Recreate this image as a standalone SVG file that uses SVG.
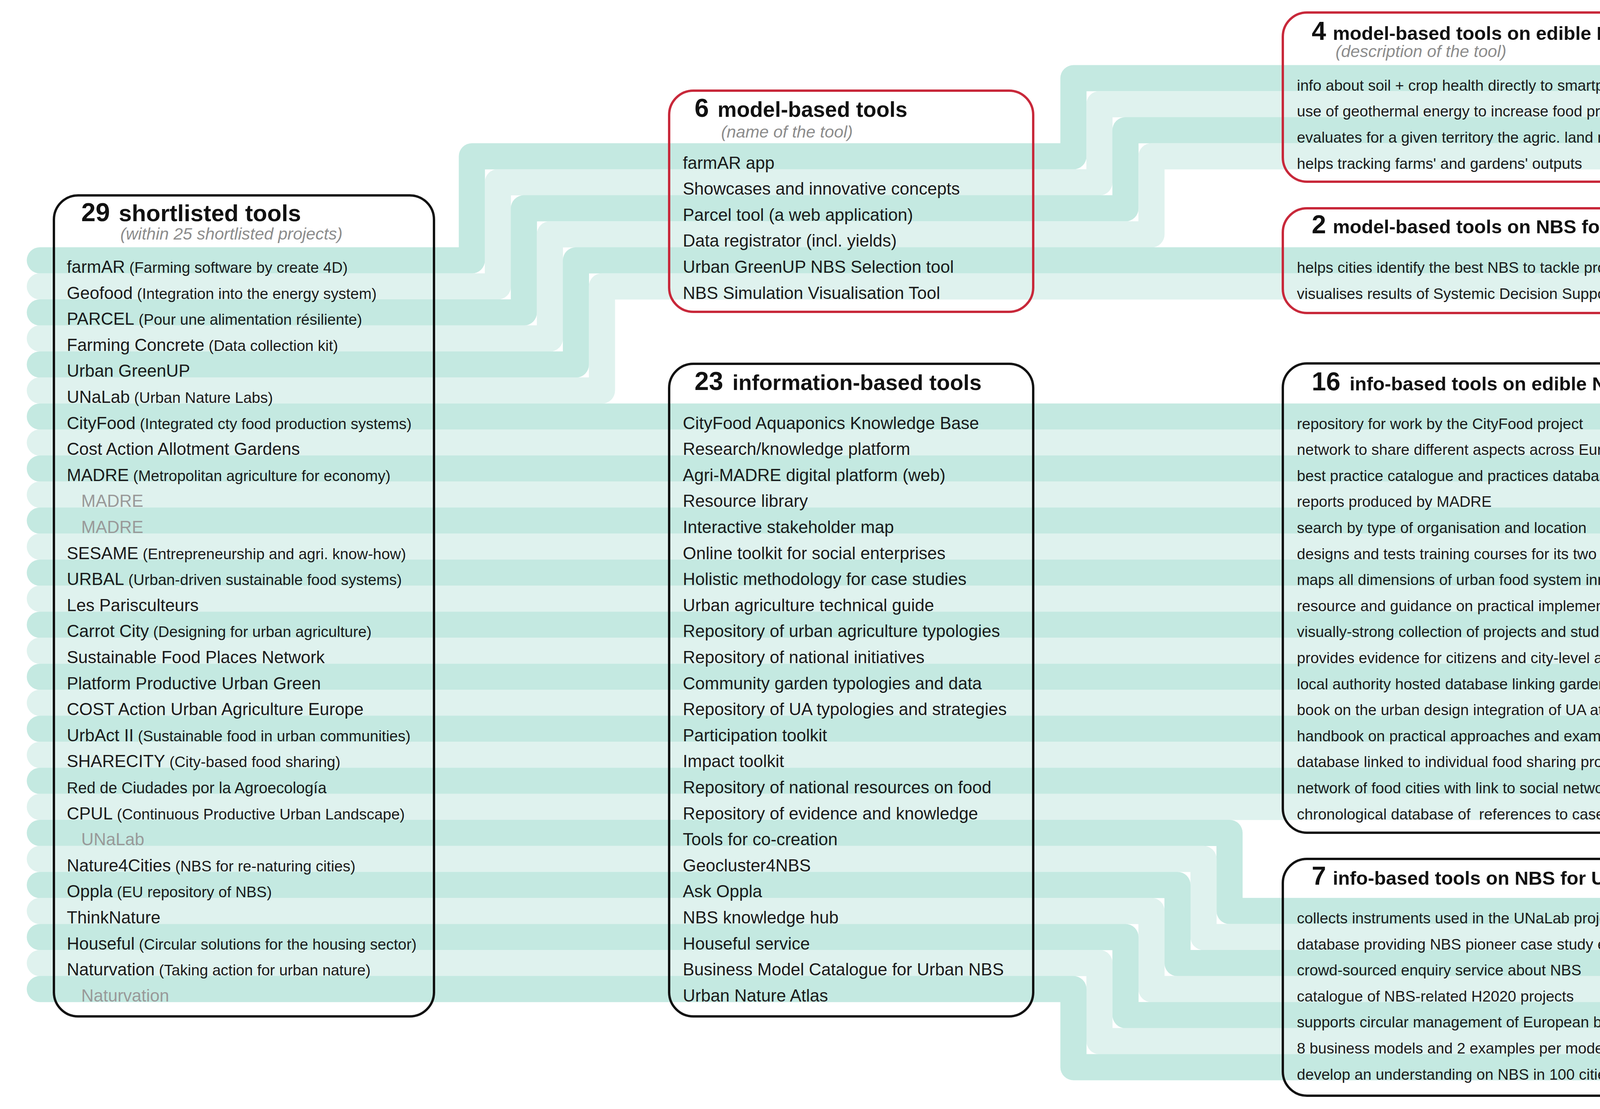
<svg xmlns="http://www.w3.org/2000/svg" width="4387" height="2838" viewBox="0 0 4387 2838">
<style>
.b{fill:none;stroke-width:67;stroke-linecap:round;stroke-linejoin:round}
.d{stroke:#c4e9e1}
.l{stroke:#dff2ee}
.box{fill:none;stroke:#111;stroke-width:6}
.red{stroke:#c8283a}
text{font-family:"Liberation Sans",Arial,sans-serif;fill:#1a1a1a}
.t{font-size:44px}
.p{font-size:39px}
.g{fill:#999}
.r{font-size:39px}
.num{font-size:66px;font-weight:bold;fill:#111}
.h{font-weight:bold;fill:#111}
.sub{font-size:43px;font-style:italic;fill:#8c8c8c}
</style>
<rect width="4387" height="2838" fill="#fff"/>
<g id="connectors">
<path class="b d" d="M102 666.3H1208V399.9H2748V200.1H4287"/>
<path class="b l" d="M102 732.9H1274.6V466.5H2814.6V266.7H4287"/>
<path class="b d" d="M102 799.5H1341.2V533.1H2881.2V333.3H4287"/>
<path class="b l" d="M102 866.1H1407.8V599.7H2947.8V399.9H4287"/>
<path class="b d" d="M102 932.7H1474.4V666.3H4287"/>
<path class="b l" d="M102 999.3H1541V732.9H4287"/>
<path class="b d" d="M102 1065.9H4287"/>
<path class="b l" d="M102 1132.5H4287"/>
<path class="b d" d="M102 1199.1H4287"/>
<path class="b l" d="M102 1265.7H4287"/>
<path class="b d" d="M102 1332.3H4287"/>
<path class="b l" d="M102 1398.9H4287"/>
<path class="b d" d="M102 1465.5H4287"/>
<path class="b l" d="M102 1532.1H4287"/>
<path class="b d" d="M102 1598.7H4287"/>
<path class="b l" d="M102 1665.3H4287"/>
<path class="b d" d="M102 1731.9H4287"/>
<path class="b l" d="M102 1798.5H4287"/>
<path class="b d" d="M102 1865.1H4287"/>
<path class="b l" d="M102 1931.7H4287"/>
<path class="b d" d="M102 1998.3H4287"/>
<path class="b l" d="M102 2064.9H4287"/>
<path class="b d" d="M102 2131.5H3147.6V2331.3H4287"/>
<path class="b l" d="M102 2198.1H3081V2397.9H4287"/>
<path class="b d" d="M102 2264.7H3014.4V2464.5H4287"/>
<path class="b l" d="M102 2331.3H2947.8V2531.1H4287"/>
<path class="b d" d="M102 2397.9H2881.2V2597.7H4287"/>
<path class="b l" d="M102 2464.5H2814.6V2664.3H4287"/>
<path class="b d" d="M102 2531.1H2748V2730.9H4287"/>
</g>

<g id="shortlisted-tools">
<rect class="box" x="138" y="500" width="973" height="2101" rx="62"/>
<text x="208" y="566"><tspan class="num">29</tspan><tspan class="h" x="304" font-size="60">shortlisted tools</tspan></text>
<text class="sub" x="308" y="613">(within 25 shortlisted projects)</text>
<text class="t" x="171" y="698">farmAR<tspan class="p"> (Farming software by create 4D)</tspan></text>
<text class="t" x="171" y="764.6">Geofood<tspan class="p"> (Integration into the energy system)</tspan></text>
<text class="t" x="171" y="831.2">PARCEL<tspan class="p"> (Pour une alimentation résiliente)</tspan></text>
<text class="t" x="171" y="897.8">Farming Concrete<tspan class="p"> (Data collection kit)</tspan></text>
<text class="t" x="171" y="964.4">Urban GreenUP</text>
<text class="t" x="171" y="1031">UNaLab<tspan class="p"> (Urban Nature Labs)</tspan></text>
<text class="t" x="171" y="1097.6">CityFood<tspan class="p"> (Integrated cty food production systems)</tspan></text>
<text class="t" x="171" y="1164.2">Cost Action Allotment Gardens</text>
<text class="t" x="171" y="1230.8">MADRE<tspan class="p"> (Metropolitan agriculture for economy)</tspan></text>
<text class="t g" x="208" y="1297.4">MADRE</text>
<text class="t g" x="208" y="1364">MADRE</text>
<text class="t" x="171" y="1430.6">SESAME<tspan class="p"> (Entrepreneurship and agri. know-how)</tspan></text>
<text class="t" x="171" y="1497.2">URBAL<tspan class="p"> (Urban-driven sustainable food systems)</tspan></text>
<text class="t" x="171" y="1563.8">Les Parisculteurs</text>
<text class="t" x="171" y="1630.4">Carrot City<tspan class="p"> (Designing for urban agriculture)</tspan></text>
<text class="t" x="171" y="1697">Sustainable Food Places Network</text>
<text class="t" x="171" y="1763.6">Platform Productive Urban Green</text>
<text class="t" x="171" y="1830.2">COST Action Urban Agriculture Europe</text>
<text class="t" x="171" y="1896.8">UrbAct II<tspan class="p"> (Sustainable food in urban communities)</tspan></text>
<text class="t" x="171" y="1963.4">SHARECITY<tspan class="p"> (City-based food sharing)</tspan></text>
<text x="171" y="2030" font-size="40">Red de Ciudades por la Agroecología</text>
<text class="t" x="171" y="2096.6">CPUL<tspan class="p"> (Continuous Productive Urban Landscape)</tspan></text>
<text class="t g" x="208" y="2163.2">UNaLab</text>
<text class="t" x="171" y="2229.8">Nature4Cities<tspan class="p"> (NBS for re-naturing cities)</tspan></text>
<text class="t" x="171" y="2296.4">Oppla<tspan class="p"> (EU repository of NBS)</tspan></text>
<text class="t" x="171" y="2363">ThinkNature</text>
<text class="t" x="171" y="2429.6">Houseful<tspan class="p"> (Circular solutions for the housing sector)</tspan></text>
<text class="t" x="171" y="2496.2">Naturvation<tspan class="p"> (Taking action for urban nature)</tspan></text>
<text class="t g" x="208" y="2562.8">Naturvation</text>
</g>

<g id="model-based-tools">
<rect class="box red" x="1713" y="232" width="932" height="566" rx="62"/>
<text x="1778" y="299"><tspan class="num">6</tspan><tspan class="h" x="1837" font-size="55">model-based tools</tspan></text>
<text class="sub" x="1846" y="352">(name of the tool)</text>
<text class="t" x="1748" y="431.6">farmAR app</text>
<text class="t" x="1748" y="498.2">Showcases and innovative concepts</text>
<text class="t" x="1748" y="564.8">Parcel tool (a web application)</text>
<text class="t" x="1748" y="631.4">Data registrator (incl. yields)</text>
<text class="t" x="1748" y="698">Urban GreenUP NBS Selection tool</text>
<text class="t" x="1748" y="764.6">NBS Simulation Visualisation Tool</text>
</g>

<g id="information-based-tools">
<rect class="box" x="1713" y="931" width="932" height="1670" rx="62"/>
<text x="1778" y="998"><tspan class="num">23</tspan><tspan class="h" x="1875" font-size="56">information-based tools</tspan></text>
<text class="t" x="1748" y="1097.6">CityFood Aquaponics Knowledge Base</text>
<text class="t" x="1748" y="1164.2">Research/knowledge platform</text>
<text class="t" x="1748" y="1230.8">Agri-MADRE digital platform (web)</text>
<text class="t" x="1748" y="1297.4">Resource library</text>
<text class="t" x="1748" y="1364">Interactive stakeholder map</text>
<text class="t" x="1748" y="1430.6">Online toolkit for social enterprises</text>
<text class="t" x="1748" y="1497.2">Holistic methodology for case studies</text>
<text class="t" x="1748" y="1563.8">Urban agriculture technical guide</text>
<text class="t" x="1748" y="1630.4">Repository of urban agriculture typologies</text>
<text class="t" x="1748" y="1697">Repository of national initiatives</text>
<text class="t" x="1748" y="1763.6">Community garden typologies and data</text>
<text class="t" x="1748" y="1830.2">Repository of UA typologies and strategies</text>
<text class="t" x="1748" y="1896.8">Participation toolkit</text>
<text class="t" x="1748" y="1963.4">Impact toolkit</text>
<text class="t" x="1748" y="2030">Repository of national resources on food</text>
<text class="t" x="1748" y="2096.6">Repository of evidence and knowledge</text>
<text class="t" x="1748" y="2163.2">Tools for co-creation</text>
<text class="t" x="1748" y="2229.8">Geocluster4NBS</text>
<text class="t" x="1748" y="2296.4">Ask Oppla</text>
<text class="t" x="1748" y="2363">NBS knowledge hub</text>
<text class="t" x="1748" y="2429.6">Houseful service</text>
<text class="t" x="1748" y="2496.2">Business Model Catalogue for Urban NBS</text>
<text class="t" x="1748" y="2562.8">Urban Nature Atlas</text>
</g>

<g id="model-edible-nbs">
<rect class="box red" x="3284" y="32" width="969" height="433" rx="62"/>
<text x="3358" y="102"><tspan class="num">4</tspan><tspan class="h" x="3412" font-size="49">model-based tools on edible NBS</tspan></text>
<text class="sub" x="3419" y="146">(description of the tool)</text>
<text class="r" x="3320" y="231.8">info about soil + crop health directly to smartphone</text>
<text class="r" x="3320" y="298.4">use of geothermal energy to increase food production</text>
<text class="r" x="3320" y="365">evaluates for a given territory the agric. land needed</text>
<text class="r" x="3320" y="431.6">helps tracking farms' and gardens' outputs</text>
</g>

<g id="model-nbs-ua">
<rect class="box red" x="3284" y="533" width="969" height="268" rx="62"/>
<text x="3358" y="597"><tspan class="num">2</tspan><tspan class="h" x="3412" font-size="49">model-based tools on NBS for UA</tspan></text>
<text class="r" x="3320" y="698">helps cities identify the best NBS to tackle problems</text>
<text class="r" x="3320" y="764.6">visualises results of Systemic Decision Support Tool</text>
</g>

<g id="info-edible-nbs">
<rect class="box" x="3284" y="930" width="969" height="1201" rx="62"/>
<text x="3358" y="999"><tspan class="num">16</tspan><tspan class="h" x="3455" font-size="49">info-based tools on edible NBS</tspan></text>
<text class="r" x="3320" y="1097.6">repository for work by the CityFood project</text>
<text class="r" x="3320" y="1164.2">network to share different aspects across Europe</text>
<text class="r" x="3320" y="1230.8">best practice catalogue and practices database</text>
<text class="r" x="3320" y="1297.4">reports produced by MADRE</text>
<text class="r" x="3320" y="1364">search by type of organisation and location</text>
<text class="r" x="3320" y="1430.6">designs and tests training courses for its two targets</text>
<text class="r" x="3320" y="1497.2">maps all dimensions of urban food system innovation</text>
<text class="r" x="3320" y="1563.8">resource and guidance on practical implementation</text>
<text class="r" x="3320" y="1630.4">visually-strong collection of projects and studies</text>
<text class="r" x="3320" y="1697">provides evidence for citizens and city-level action</text>
<text class="r" x="3320" y="1763.6">local authority hosted database linking gardens</text>
<text class="r" x="3320" y="1830.2">book on the urban design integration of UA at scales</text>
<text class="r" x="3320" y="1896.8">handbook on practical approaches and examples</text>
<text class="r" x="3320" y="1963.4">database linked to individual food sharing projects</text>
<text class="r" x="3320" y="2030">network of food cities with link to social network</text>
<text class="r" x="3320" y="2096.6" xml:space="preserve">chronological database of  references to case studies</text>
</g>

<g id="info-nbs-ua">
<rect class="box" x="3284" y="2198" width="969" height="606" rx="62"/>
<text x="3358" y="2264"><tspan class="num">7</tspan><tspan class="h" x="3412" font-size="49">info-based tools on NBS for UA</tspan></text>
<text class="r" x="3320" y="2363">collects instruments used in the UNaLab project</text>
<text class="r" x="3320" y="2429.6">database providing NBS pioneer case study examples</text>
<text class="r" x="3320" y="2496.2">crowd-sourced enquiry service about NBS</text>
<text class="r" x="3320" y="2562.8">catalogue of NBS-related H2020 projects</text>
<text class="r" x="3320" y="2629.4">supports circular management of European buildings</text>
<text class="r" x="3320" y="2696">8 business models and 2 examples per model</text>
<text class="r" x="3320" y="2762.6">develop an understanding on NBS in 100 cities</text>
</g>
</svg>
